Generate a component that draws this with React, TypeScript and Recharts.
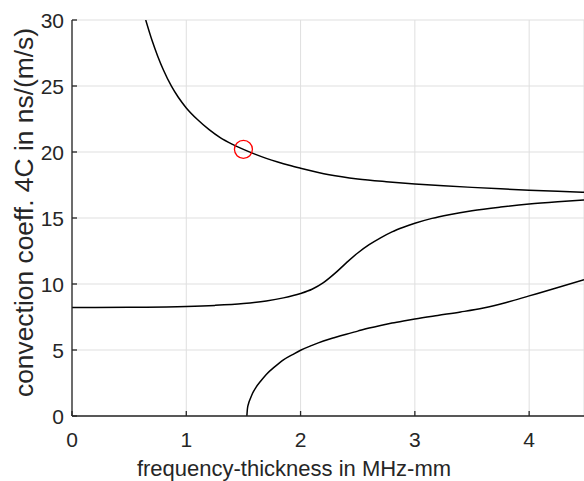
import React from "react";
import { LineChart, Line, XAxis, YAxis, CartesianGrid, ReferenceDot, Label } from "recharts";

const xTicks = [0, 1, 2, 3, 4];
const yTicks = [0, 5, 10, 15, 20, 25, 30];

const curveA = [
  { x: 0.645, y: 30.0 }, { x: 0.7, y: 28.46 }, { x: 0.75, y: 27.26 }, { x: 0.8, y: 26.21 },
  { x: 0.87, y: 24.985 }, { x: 0.93, y: 24.145 }, { x: 1.0, y: 23.34 }, { x: 1.1, y: 22.44 },
  { x: 1.2, y: 21.69 }, { x: 1.3, y: 21.07 }, { x: 1.4, y: 20.6 }, { x: 1.5, y: 20.2 },
  { x: 1.6, y: 19.84 }, { x: 1.7, y: 19.52 }, { x: 1.8, y: 19.24 }, { x: 1.9, y: 18.99 },
  { x: 2.0, y: 18.77 }, { x: 2.25, y: 18.28 }, { x: 2.5, y: 17.96 }, { x: 2.75, y: 17.75 },
  { x: 3.0, y: 17.58 }, { x: 3.25, y: 17.44 }, { x: 3.5, y: 17.32 }, { x: 3.75, y: 17.21 },
  { x: 4.0, y: 17.11 }, { x: 4.25, y: 17.02 }, { x: 4.48, y: 16.95 },
];

const curveB = [
  { x: 0, y: 8.22 }, { x: 0.5, y: 8.24 }, { x: 1.0, y: 8.3 }, { x: 1.25, y: 8.38 },
  { x: 1.5, y: 8.52 }, { x: 1.7, y: 8.72 }, { x: 1.85, y: 8.95 }, { x: 2.0, y: 9.28 },
  { x: 2.1, y: 9.6 }, { x: 2.2, y: 10.1 }, { x: 2.3, y: 10.8 }, { x: 2.4, y: 11.6 },
  { x: 2.5, y: 12.35 }, { x: 2.6, y: 12.98 }, { x: 2.7, y: 13.5 }, { x: 2.8, y: 13.95 },
  { x: 2.9, y: 14.3 }, { x: 3.0, y: 14.6 }, { x: 3.15, y: 14.97 }, { x: 3.3, y: 15.25 },
  { x: 3.5, y: 15.55 }, { x: 3.75, y: 15.83 }, { x: 4.0, y: 16.06 }, { x: 4.25, y: 16.23 },
  { x: 4.48, y: 16.36 },
];

const curveC = [
  { x: 1.53, y: 0 }, { x: 1.535, y: 0.55 }, { x: 1.545, y: 0.95 }, { x: 1.56, y: 1.3 },
  { x: 1.58, y: 1.72 }, { x: 1.61, y: 2.17 }, { x: 1.65, y: 2.63 }, { x: 1.7, y: 3.15 },
  { x: 1.77, y: 3.7 }, { x: 1.85, y: 4.25 }, { x: 1.93, y: 4.65 }, { x: 2.0, y: 4.98 },
  { x: 2.1, y: 5.35 }, { x: 2.2, y: 5.68 }, { x: 2.3, y: 5.95 }, { x: 2.4, y: 6.2 },
  { x: 2.5, y: 6.43 }, { x: 2.6, y: 6.66 }, { x: 2.7, y: 6.86 }, { x: 2.8, y: 7.04 },
  { x: 2.9, y: 7.2 }, { x: 3.0, y: 7.35 }, { x: 3.2, y: 7.62 }, { x: 3.4, y: 7.88 },
  { x: 3.6, y: 8.18 }, { x: 3.8, y: 8.6 }, { x: 4.0, y: 9.1 }, { x: 4.2, y: 9.6 },
  { x: 4.48, y: 10.32 },
];

const markerPoint = { x: 1.5, y: 20.2 };

const FONT = "'Liberation Sans', Arial, Helvetica, sans-serif";
const AXIS = "#262626";

const XTick = (props: any) => {
  const { x, y, payload } = props;
  return (
    <g>
      <line x1={x} y1={y} x2={x} y2={y - 5} stroke={AXIS} strokeWidth={1.3} />
      <text x={x} y={y + 31} textAnchor="middle" fontFamily={FONT} fontSize={21} fill={AXIS}>
        {payload.value}
      </text>
    </g>
  );
};

const YTick = (props: any) => {
  const { x, y, payload } = props;
  return (
    <g>
      <line x1={x} y1={y} x2={x + 5} y2={y} stroke={AXIS} strokeWidth={1.3} />
      <text x={x - 8} y={y + 7.5} textAnchor="end" fontFamily={FONT} fontSize={21} fill={AXIS}>
        {payload.value}
      </text>
    </g>
  );
};

const XLabel = (props: any) => {
  const vb = props.viewBox;
  return (
    <text x={vb.x + 222} y={vb.y + 60} textAnchor="middle" fontFamily={FONT} fontSize={22} fill={AXIS}>
      frequency-thickness in MHz-mm
    </text>
  );
};

const YLabel = (props: any) => {
  const vb = props.viewBox;
  const cx = vb.x + 33;
  const cy = vb.y + vb.height / 2 - 5.5;
  return (
    <text
      x={cx}
      y={cy}
      transform={`rotate(-90, ${cx}, ${cy})`}
      textAnchor="middle"
      fontFamily={FONT}
      fontSize={26.4}
      fill={AXIS}
    >
      convection coeff. 4C in ns/(m/s)
    </text>
  );
};

export default function App() {
  return (
    <div style={{ position: "absolute", left: 0, top: 0, width: 584, height: 481, overflow: "hidden", background: "#fff" }}>
      <LineChart width={584} height={481} margin={{ top: 20, right: 0, bottom: 0, left: 0 }}>
        <CartesianGrid stroke="#dfdfdf" strokeWidth={1} />
        <XAxis
          type="number"
          dataKey="x"
          domain={[0, 4.48]}
          ticks={xTicks}
          allowDataOverflow
          height={65}
          tickSize={0}
          tickMargin={0}
          tickLine={false}
          axisLine={{ stroke: AXIS, strokeWidth: 1.3 }}
          tick={<XTick />}
          interval={0}
        >
          <Label content={<XLabel />} />
        </XAxis>
        <YAxis
          type="number"
          dataKey="y"
          domain={[0, 30]}
          ticks={yTicks}
          allowDataOverflow
          width={72}
          tickSize={0}
          tickMargin={0}
          tickLine={false}
          axisLine={{ stroke: AXIS, strokeWidth: 1.3 }}
          tick={<YTick />}
          interval={0}
        >
          <Label content={<YLabel />} />
        </YAxis>
        <Line data={curveA} dataKey="y" type="monotone" stroke="#000" strokeWidth={1.5} dot={false} isAnimationActive={false} />
        <Line data={curveB} dataKey="y" type="monotone" stroke="#000" strokeWidth={1.5} dot={false} isAnimationActive={false} />
        <Line data={curveC} dataKey="y" type="monotone" stroke="#000" strokeWidth={1.5} dot={false} isAnimationActive={false} />
        <ReferenceDot x={markerPoint.x} y={markerPoint.y} r={9} fill="none" stroke="#ff0000" strokeWidth={1.3} />
      </LineChart>
    </div>
  );
}
